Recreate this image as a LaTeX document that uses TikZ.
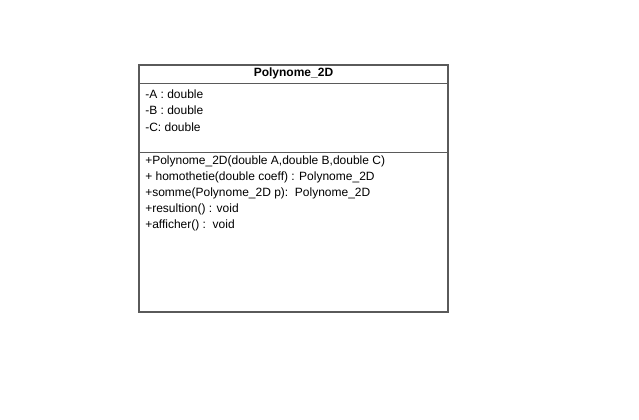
\documentclass[tikz,border=0pt]{standalone}
\usepackage{fontspec}
\setmainfont{Liberation Sans}
\definecolor{boxline}{RGB}{90,90,90}
\tikzset{
  member/.style={anchor=west, inner sep=0pt, font=\fontsize{9}{11}\selectfont},
  title/.style={inner sep=0pt, font=\fontsize{9}{11}\selectfont\bfseries},
  frame/.style={draw=boxline, line width=0.9pt}
}
\begin{document}
\begin{tikzpicture}[x=0.75pt,y=-0.75pt]
\useasboundingbox (0,0) rectangle (639,420);
\draw[frame] (139,65) rectangle (448,312);
\draw[frame] (139,83.5) -- (448,83.5);
\draw[frame] (139,152.5) -- (448,152.5);
\node[title] (t) at (293.5,73.5) {Polynome\_2D};
\node[member] (a1) at (145,94.5) {-A : double};
\node[member] (a2) at (145,110.5) {-B : double};
\node[member] (a3) at (145,127) {-C: double};
\node[member] (m1) at (145,161) {+Polynome\_2D(double A,double B,double C)};
\node[member] (m2) at (145,177) {+ homothetie(double coeff) : Polynome\_2D};
\node[member] (m3) at (145,193) {+somme(Polynome\_2D p):\ \ Polynome\_2D};
\node[member] (m4) at (145,209) {+resultion() : void};
\node[member] (m5) at (145,225.5) {+afficher() :\ \ void};
\end{tikzpicture}
\end{document}
